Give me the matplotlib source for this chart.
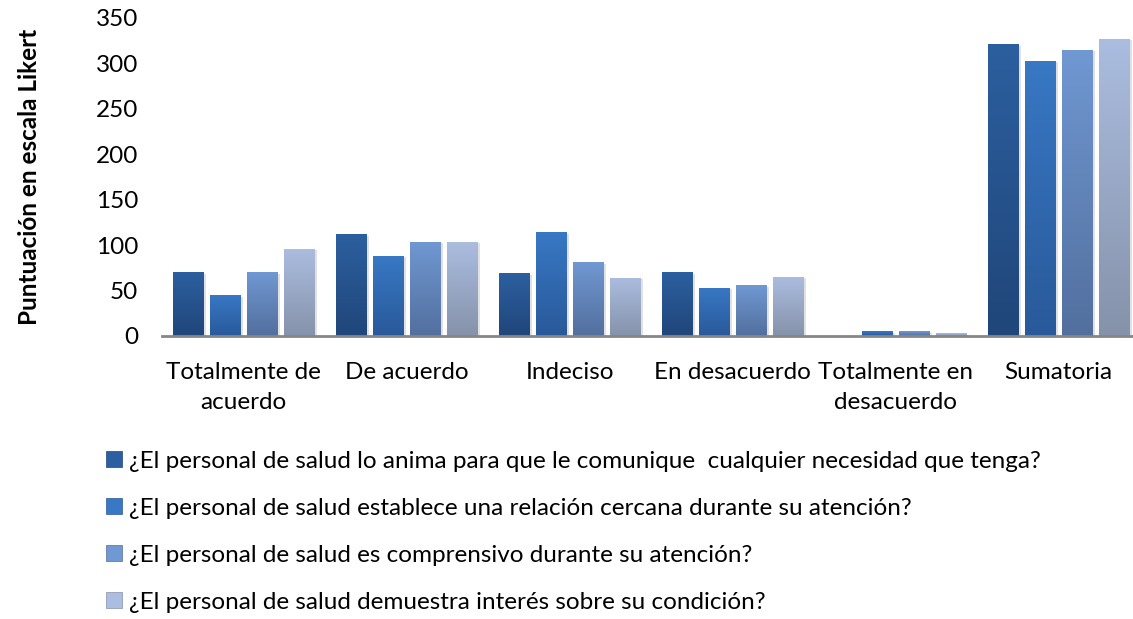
import numpy as np
import matplotlib
matplotlib.use("Agg")
import matplotlib.pyplot as plt
from matplotlib.colors import LinearSegmentedColormap
from matplotlib.patches import Patch
import matplotlib.patheffects as pe

plt.rcParams['font.family'] = ['Lato', 'DejaVu Sans']

categorias = ['Totalmente de\nacuerdo', 'De acuerdo', 'Indeciso', 'En desacuerdo',
              'Totalmente en\ndesacuerdo', 'Sumatoria']

preguntas = [
    '¿El personal de salud lo anima para que le comunique  cualquier necesidad que tenga?',
    '¿El personal de salud establece una relación cercana durante su atención?',
    '¿El personal de salud es comprensivo durante su atención?',
    '¿El personal de salud demuestra interés sobre su condición?',
]

anima = [70, 112, 69, 70, 0, 321]
cercana = [45, 88, 114, 53, 5, 303]
comprensivo = [70, 104, 81, 56, 5, 315]
interes = [96, 104, 64, 65, 3, 327]
series = [anima, cercana, comprensivo, interes]

# (arriba, abajo) de cada degradado
colores = [('#2c5f9f', '#20467a'),
           ('#3878c4', '#29599a'),
           ('#7098d2', '#526f9e'),
           ('#abbde0', '#8592aa')]

fig = plt.figure(figsize=(11.33, 6.19), dpi=100)
ax = fig.add_axes([162 / 1133, 283 / 619, 978 / 1133, 318 / 619])

x = np.arange(len(categorias))
ancho = 31 / 163
paso = 37 / 163
grad = np.linspace(1, 0, 256).reshape(-1, 1)

for i, (vals, (c_top, c_bot)) in enumerate(zip(series, colores)):
    cmap = LinearSegmentedColormap.from_list('g%d' % i, [c_bot, c_top])
    pos = x + (i - 1.5) * paso
    barras = ax.bar(pos, vals, width=ancho, color=c_top, zorder=2,
                    path_effects=[pe.SimplePatchShadow(offset=(2, -1), shadow_rgbFace='#888888', alpha=0.25),
                                  pe.Normal()])
    for b in barras:
        h = b.get_height()
        if h <= 0:
            continue
        bx = b.get_x()
        im = ax.imshow(grad, cmap=cmap, aspect='auto', zorder=3,
                       extent=[bx, bx + b.get_width(), 0, h], origin='upper')
        im.set_clip_path(b)

ax.set_xlim(-0.5, 5.5)
ax.set_ylim(0, 350)
ax.set_yticks(range(0, 351, 50))
ax.set_xticks(x)
ax.set_xticklabels(categorias, fontsize=17.5, linespacing=1.5)
ax.tick_params(axis='y', labelsize=17.5, length=0, pad=17)
ax.tick_params(axis='x', length=0, pad=19)
for s in ['top', 'right', 'left']:
    ax.spines[s].set_visible(False)
ax.spines['bottom'].set_color('#868686')
ax.spines['bottom'].set_linewidth(2)
ax.spines['bottom'].set_zorder(4)

fig.text(30 / 1133, 1 - 177 / 619, 'Puntuación en escala Likert', rotation=90,
         ha='center', va='center', fontsize=17.5, fontweight='bold')

handles = [Patch(facecolor=c[0], edgecolor=c[1], linewidth=0.5) for c in colores]
fig.legend(handles, preguntas, loc='upper left', bbox_to_anchor=(96 / 1133, 1 - 441 / 619),
           frameon=False, fontsize=17.5, handlelength=0.65, handleheight=0.65,
           handletextpad=0.3, labelspacing=1.07, borderaxespad=0)

fig.savefig('out.png', dpi=100)
